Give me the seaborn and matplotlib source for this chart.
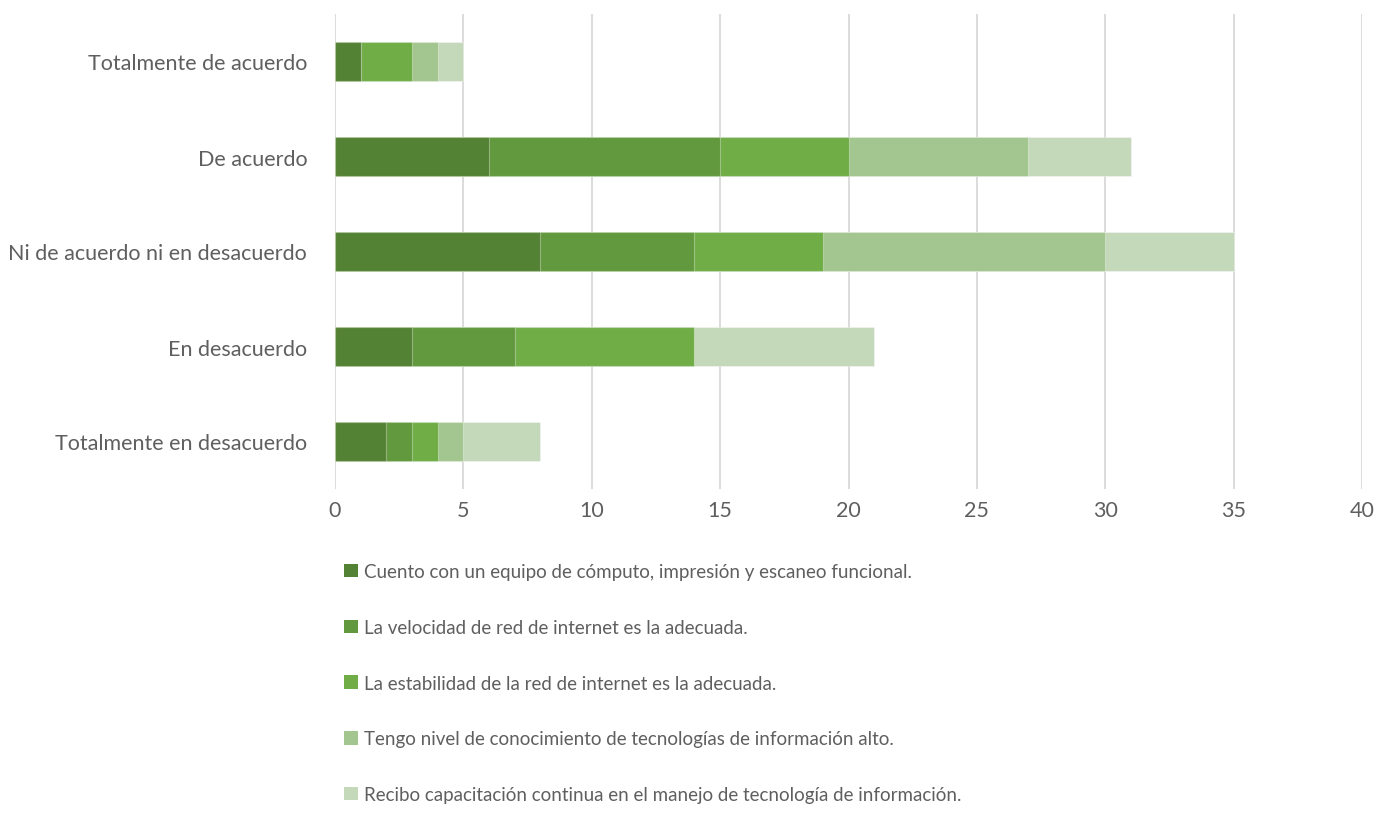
import numpy as np
import pandas as pd
import matplotlib
matplotlib.use("Agg")
import matplotlib.pyplot as plt
import seaborn as sns
from matplotlib.patches import Patch

categories = ["Totalmente de acuerdo", "De acuerdo", "Ni de acuerdo ni en desacuerdo",
              "En desacuerdo", "Totalmente en desacuerdo"]
series = [
    "Cuento con un equipo de cómputo, impresión y escaneo funcional.",
    "La velocidad de red de internet es la adecuada.",
    "La estabilidad de la red de internet es la adecuada.",
    "Tengo nivel de conocimiento de tecnologías de información alto.",
    "Recibo capacitación continua en el manejo de tecnología de información.",
]
equipo = [1, 6, 8, 3, 2]
velocidad = [0, 9, 6, 4, 1]
estabilidad = [2, 5, 5, 7, 1]
conocimiento = [1, 7, 11, 0, 1]
capacitacion = [1, 4, 5, 7, 3]
colors = ["#548235", "#62993E", "#70AD47", "#A3C58F", "#C4D8BA"]

sns.set_style("white")
plt.rcParams["font.family"] = ["Lato", "DejaVu Sans"]
text_color = "#5F5F5F"

values = np.array([equipo, velocidad, estabilidad, conocimiento, capacitacion])
cum = values.cumsum(axis=0)

fig = plt.figure(figsize=(13.87, 8.29), dpi=100)
ax = fig.add_axes([335 / 1387, 1 - 490 / 829, (1362 - 335) / 1387, (490 - 15) / 829])

# draw cumulative totals from the longest down so each segment shows
for i in range(len(series) - 1, -1, -1):
    df = pd.DataFrame({"cat": categories, "val": cum[i]})
    sns.barplot(data=df, x="val", y="cat", order=categories, color=colors[i],
                width=0.42, saturation=1, edgecolor=(1, 1, 1, 0.35), linewidth=0.8, ax=ax)

ax.set_xlim(0, 40)
ax.set_xticks(range(0, 41, 5))
ax.set_xlabel("")
ax.set_ylabel("")
ax.grid(axis="x", color="#D9D9D9", linewidth=1.3)
ax.set_axisbelow(True)
for s in ax.spines.values():
    s.set_visible(False)
ax.tick_params(axis="both", length=0, labelcolor=text_color, labelsize=15.5)
ax.tick_params(axis="y", pad=20)
ax.tick_params(axis="x", pad=8)

handles = [Patch(facecolor=c, edgecolor="none") for c in colors]
leg = fig.legend(handles, series, loc="upper left", bbox_to_anchor=(344 / 1387, 1 - 564 / 829),
                 frameon=False, fontsize=13.5, labelspacing=2.07, handlelength=0.72,
                 handleheight=0.72, handletextpad=0.35, borderaxespad=0, borderpad=0)
for t in leg.get_texts():
    t.set_color(text_color)

fig.savefig("out.png", dpi=100)
